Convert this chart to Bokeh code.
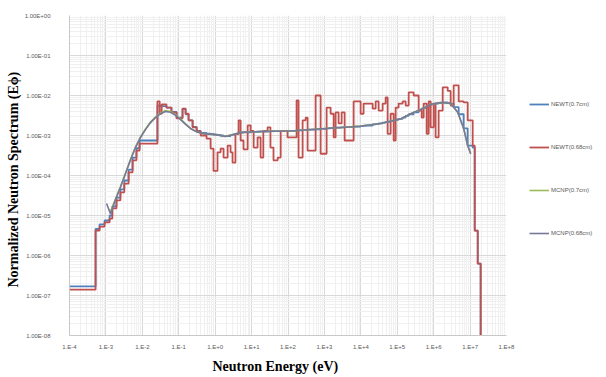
from bokeh.plotting import figure
from bokeh.models import (FixedTicker, CustomJSTickFormatter, Legend, LegendItem, Range1d, Title)
from bokeh.embed import file_html
from bokeh.resources import INLINE

# ---------------- data ----------------
# NEWT group lower boundaries (eV) and group values (shared group structure)
newt_E = [1e-4, 5.2e-4, 6.7e-4, 9.2e-4, 1.26e-3, 1.5e-3, 1.95e-3, 2.5e-3, 3.2e-3, 4.2e-3,
          5.4e-3, 6.9e-3, 8.4e-3, 2.6e-2, 3.0e-2, 3.4e-2, 4.6e-2, 6.3e-2, 8.7e-2, 0.127,
          0.154, 0.186, 0.24, 0.31, 0.40, 0.58, 0.75, 0.90, 1.16, 1.41,
          1.7, 2.2, 2.65, 3.0, 3.6, 4.4, 5.0, 6.0, 7.8, 9.4,
          11.4, 14.6, 17.7, 21, 27.5, 33, 40, 52, 63, 97,
          172, 195, 252, 305, 345, 573, 787, 1150, 1480, 1790,
          2030, 2450, 2970, 3590, 6340, 9880, 11900, 21100, 25500, 30800,
          39700, 48000, 54500, 65900, 79600, 90300, 1.09e5, 1.41e5, 1.70e5, 2.06e5,
          2.82e5, 3.87e5, 4.68e5, 5.31e5, 6.43e5, 7.29e5, 8.28e5, 1.0e6, 1.13e6, 1.37e6,
          1.77e6, 2.43e6, 2.93e6, 3.54e6, 4.86e6, 6.67e6, 8.6e6, 1.18e7, 1.34e7, 1.62e7,
          1.95e7]

newt_068 = [1.4e-7, 4.2e-6, 5.3e-6, 6.7e-6, 8.4e-6, 1.5e-5, 2.4e-5, 3.8e-5, 6.3e-5, 1.2e-4,
            2.4e-4, 4.2e-4, 6.3e-4, 7.1e-3, 3.5e-3, 6.0e-3, 5.0e-3, 3.8e-3, 2.7e-3, 4.7e-3,
            3.5e-3, 2.4e-3, 1.6e-3, 1.26e-3, 1.0e-3, 8.4e-4, 4.7e-4, 1.3e-4, 3.8e-4, 4.7e-4,
            2.8e-4, 5.6e-4, 3.8e-4, 2.1e-4, 1.1e-3, 2.4e-3, 7.5e-4, 4.5e-4, 1.8e-3, 1.3e-3,
            5e-4, 8.9e-4, 2.8e-4, 1.3e-3, 1.6e-3, 5e-4, 2.4e-4, 2.8e-4, 1.3e-3, 9e-4,
            7.5e-3, 2.8e-4, 2.4e-3, 2.8e-3, 4.2e-4, 1e-2, 3.5e-4, 5e-3, 3.5e-3, 9e-4,
            3.8e-3, 2e-3, 3.8e-3, 7.5e-4, 7.1e-3, 3.5e-3, 6.3e-3, 4.7e-3, 7.1e-3, 4.2e-3,
            6.3e-3, 8.9e-3, 1.1e-3, 3.5e-3, 7.5e-4, 5e-3, 6.3e-3, 7.1e-3, 5.6e-3, 1.2e-2,
            1e-2, 4.2e-3, 2.8e-3, 6.3e-3, 1.1e-3, 7.1e-3, 1.6e-3, 6.3e-3, 9e-4, 4.2e-3,
            1.6e-2, 1.3e-2, 5.6e-3, 1.8e-2, 7.1e-3, 6.7e-3, 2.4e-3, 5.6e-4, 4.2e-6, 6.3e-7,
            1e-9]

newt_07 = [1.7e-7, 4.6e-6, 6.0e-6, 7.5e-6, 1.0e-5, 1.7e-5, 2.8e-5, 4.5e-5, 7.5e-5, 1.4e-4,
           2.8e-4, 4.8e-4, 7.5e-4, 5.6e-3, 5.6e-3, 5.4e-3, 5.0e-3, 3.9e-3, 2.8e-3, 4.6e-3,
           3.4e-3, 2.4e-3, 1.65e-3, 1.3e-3, 1.16e-3, 1.12e-3, 1.1e-3, 1.05e-3, 1.04e-3, 1.0e-3,
           9.7e-4, 9.7e-4, 1.02e-3, 1.05e-3, 1.1e-3, 1.13e-3, 1.18e-3, 1.2e-3, 1.2e-3, 1.22e-3,
           1.23e-3, 1.24e-3, 1.26e-3, 1.26e-3, 1.27e-3, 1.28e-3, 1.28e-3, 1.29e-3, 1.3e-3, 1.3e-3,
           1.34e-3, 1.35e-3, 1.37e-3, 1.39e-3, 1.4e-3, 1.43e-3, 1.47e-3, 1.5e-3, 1.54e-3, 1.56e-3,
           1.57e-3, 1.58e-3, 1.6e-3, 1.62e-3, 1.67e-3, 1.71e-3, 1.76e-3, 1.9e-3, 1.94e-3, 2.0e-3,
           2.1e-3, 2.2e-3, 2.2e-3, 2.3e-3, 2.4e-3, 2.5e-3, 2.6e-3, 2.8e-3, 3.1e-3, 3.4e-3,
           3.8e-3, 4.3e-3, 4.7e-3, 4.9e-3, 5.3e-3, 5.6e-3, 6.0e-3, 6.2e-3, 6.3e-3, 6.5e-3,
           6.7e-3, 6.5e-3, 6.3e-3, 5.1e-3, 3.4e-3, 1.5e-3, 5.6e-4, 5.0e-4, 4.2e-6, 6.3e-7,
           1e-9]

mcnp07_E = [1.3e-3, 1.84e-3, 2.5e-3, 3.45e-3, 4.7e-3, 6.5e-3, 8.9e-3, 1.22e-2, 1.68e-2, 2.3e-2,
            3.16e-2, 4.3e-2, 5.95e-2, 8.2e-2, 0.112, 0.154, 0.21, 0.33, 0.54, 1.03,
            1.9, 3.0, 5.0, 17.7, 118, 1070, 9900, 34700, 1.24e5, 2.33e5,
            4.4e5, 8.3e5, 1.56e6, 2.93e6, 4.57e6, 6.67e6, 8.6e6, 1.04e7]
mcnp07 = [1.2e-5, 2.6e-5, 5.3e-5, 1.15e-4, 2.5e-4, 5.2e-4, 9.2e-4, 1.45e-3, 2.2e-3, 2.9e-3,
          3.6e-3, 4.2e-3, 4.0e-3, 3.3e-3, 2.6e-3, 1.95e-3, 1.5e-3, 1.2e-3, 1.1e-3, 1.05e-3,
          9.6e-4, 1.05e-3, 1.2e-3, 1.26e-3, 1.3e-3, 1.5e-3, 1.72e-3, 2.0e-3, 2.6e-3, 3.5e-3,
          4.5e-3, 6.0e-3, 6.7e-3, 6.3e-3, 3.8e-3, 1.5e-3, 5.6e-4, 3.5e-4]

mcnp068_E = [1.04e-3, 1.34e-3, 1.84e-3, 2.5e-3, 3.45e-3, 4.7e-3, 6.5e-3, 8.9e-3, 1.22e-2, 1.68e-2,
             2.3e-2, 3.16e-2, 4.3e-2, 5.95e-2, 8.2e-2, 0.112, 0.154, 0.21, 0.33, 0.54,
             1.03, 1.9, 3.0, 5.0, 17.7, 118, 1070, 9900, 34700, 1.24e5,
             2.33e5, 4.4e5, 8.3e5, 1.56e6, 2.93e6, 4.57e6, 6.67e6, 8.6e6, 1.04e7]
mcnp068 = [2.0e-5, 1.1e-5, 2.5e-5, 5e-5, 1.1e-4, 2.4e-4, 5e-4, 8.9e-4, 1.4e-3, 2.1e-3,
           2.8e-3, 3.5e-3, 4.0e-3, 3.8e-3, 3.2e-3, 2.5e-3, 1.9e-3, 1.5e-3, 1.2e-3, 1.1e-3,
           1.05e-3, 9.4e-4, 1.05e-3, 1.2e-3, 1.26e-3, 1.3e-3, 1.5e-3, 1.7e-3, 2.0e-3, 2.6e-3,
           3.5e-3, 4.5e-3, 6.0e-3, 6.7e-3, 6.3e-3, 3.8e-3, 1.5e-3, 5.6e-4, 3.5e-4]

series_names = ["NEWT(0.7cm)", "NEWT(0.68cm)", "MCNP(0.7cm)", "MCNP(0.68cm)"]

x_ticks = [1e-4, 1e-3, 1e-2, 1e-1, 1e0, 1e1, 1e2, 1e3, 1e4, 1e5, 1e6, 1e7, 1e8]
x_tick_labels = ["1.E-4", "1.E-3", "1.E-2", "1.E-1", "1.E+0", "1.E+1", "1.E+2",
                 "1.E+3", "1.E+4", "1.E+5", "1.E+6", "1.E+7", "1.E+8"]
y_ticks = [1e-8, 1e-7, 1e-6, 1e-5, 1e-4, 1e-3, 1e-2, 1e-1, 1e0]
y_tick_labels = ["1.00E-08", "1.00E-07", "1.00E-06", "1.00E-05", "1.00E-04",
                 "1.00E-03", "1.00E-02", "1.00E-01", "1.00E+00"]

x_title = "Neutron Energy (eV)"
y_title = "Normalized Neutron Spectrum (E\u03d5)"

assert len(newt_E) == len(newt_068) == len(newt_07)

# ---------------- figure ----------------
p = figure(frame_width=437, frame_height=320, x_axis_type="log", y_axis_type="log",
           x_range=Range1d(1e-4, 1e8), y_range=Range1d(1e-8, 1.0),
           output_backend="svg", toolbar_location=None,
           min_border_left=69, min_border_right=0, min_border_top=15, min_border_bottom=0)
p.outline_line_color = None
p.background_fill_color = "white"
p.border_fill_color = "white"

def minors(tk):
    out = []
    for t in tk[:-1]:
        out += [m * t for m in range(2, 10)]
    return out

p.xaxis.ticker = FixedTicker(ticks=x_ticks, minor_ticks=minors(x_ticks))
p.yaxis.ticker = FixedTicker(ticks=y_ticks, minor_ticks=minors(y_ticks))

fmt_code = """
let best = 0, bd = 1e9;
for (let i = 0; i < tvals.length; i++) {
  const d = Math.abs(Math.log10(tick) - Math.log10(tvals[i]));
  if (d < bd) { bd = d; best = i; }
}
return tlabels[best];
"""
p.xaxis.formatter = CustomJSTickFormatter(args=dict(tvals=x_ticks, tlabels=x_tick_labels), code=fmt_code)
p.yaxis.formatter = CustomJSTickFormatter(args=dict(tvals=y_ticks, tlabels=y_tick_labels), code=fmt_code)

for ax in (p.xaxis, p.yaxis):
    ax.major_tick_line_color = None
    ax.minor_tick_line_color = None
    ax.major_tick_out = 0
    ax.minor_tick_out = 0
    ax.axis_line_color = "#C8C8C8"
    ax.major_label_text_font = "Liberation Sans"
    ax.major_label_text_font_size = "6px"
    ax.major_label_text_color = "#595959"

p.yaxis.major_label_standoff = 19
p.xaxis.major_label_standoff = 8

# axis titles as side titles, positioned along the axis like the original
t_y = Title(text=y_title, align="left", offset=48, standoff=2,
            text_font="Liberation Serif", text_font_style="bold", text_font_size="14px",
            text_color="#000000")
p.add_layout(t_y, "left")
t_x = Title(text=x_title, align="left", offset=143, standoff=9,
            text_font="Liberation Serif", text_font_style="bold", text_font_size="14px",
            text_color="#000000")
p.add_layout(t_x, "below")

for g in (p.xgrid, p.ygrid):
    g.grid_line_color = "#D9D9D9"
    g.minor_grid_line_color = "#F0F0F0"

r_blue = p.step(newt_E, newt_07, mode="after", line_color="#4F81BD", line_width=1.8)
r_red = p.step(newt_E, newt_068, mode="after", line_color="#C0504D", line_width=1.8)
r_green = p.line(mcnp07_E, mcnp07, line_color="#9BBB59", line_width=1.6)
r_gray = p.line(mcnp068_E, mcnp068, line_color="#77789A", line_width=1.6)

legend = Legend(items=[LegendItem(label=series_names[0], renderers=[r_blue]),
                       LegendItem(label=series_names[1], renderers=[r_red]),
                       LegendItem(label=series_names[2], renderers=[r_green]),
                       LegendItem(label=series_names[3], renderers=[r_gray])],
                location=(23, 97), orientation="vertical",
                glyph_width=20, glyph_height=10, label_height=10, spacing=33,
                padding=0, margin=0, label_standoff=2, label_width=48,
                label_text_font="Liberation Sans", label_text_font_size="6px",
                label_text_color="#595959",
                border_line_alpha=0, background_fill_alpha=0)
p.add_layout(legend, "right")

open("out.html", "w").write(file_html(p, INLINE))
